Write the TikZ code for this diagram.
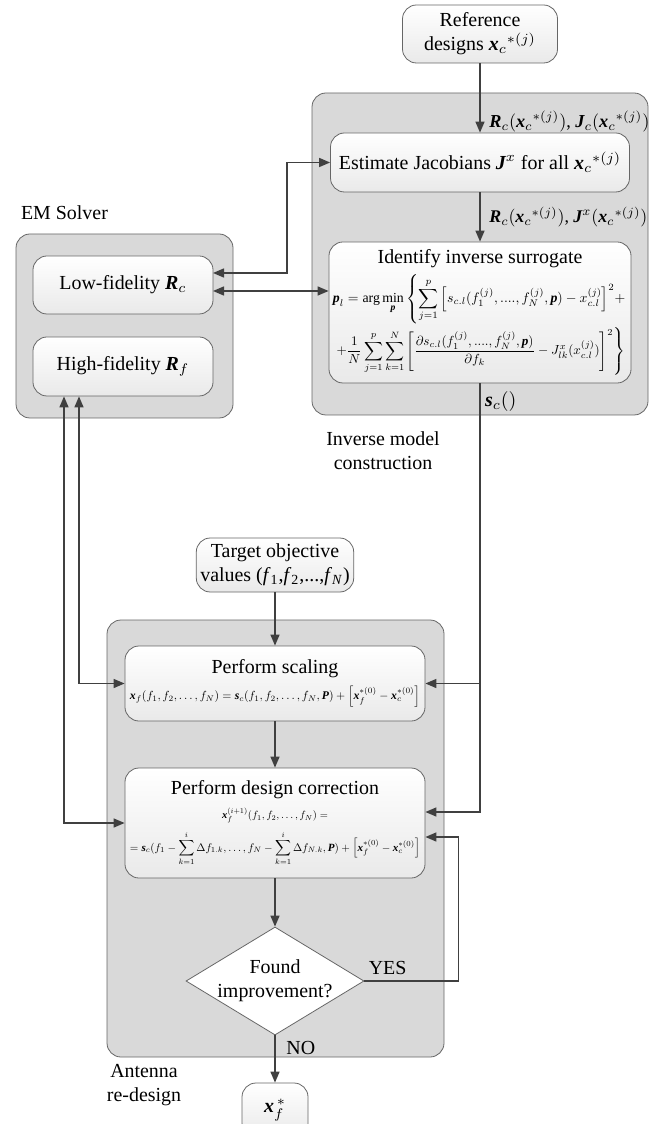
\documentclass[tikz,border=0pt]{standalone}
\usepackage{amsmath}
\usepackage{graphicx}
\usepackage{fontspec}
\setmainfont{Liberation Serif}
\usetikzlibrary{arrows.meta,shapes.geometric}
\newcommand{\bsym}[1]{\text{\bfseries\itshape #1}}
\newcommand{\eqfit}[2]{\resizebox{#1}{!}{#2}}
\begin{document}
\begin{tikzpicture}[x=0.5bp, y=-0.5bp,
    >={Triangle[length=5.5bp,width=4.5bp]},
    block/.style={draw=black!60, rounded corners=7bp, top color=white, bottom color=gray!17, align=center, inner sep=2bp},
    panel/.style={draw=black!60, fill=gray!30, rounded corners=7bp},
    decision/.style={diamond, draw=black!60, fill=white, aspect=1.65, inner sep=0pt, minimum width=89bp, minimum height=54bp, align=center},
    link/.style={draw=black!75, line width=0.75bp}]
  \useasboundingbox (0,0) rectangle (656,1124);
  % grey groups
  \filldraw[panel] (312,93) rectangle (648,415);
  \filldraw[panel] (16,234) rectangle (233,418);
  \filldraw[panel] (107,620) rectangle (444,1057);
  \node[anchor=west] (emlab) at (14,213) {EM Solver};
  \node[align=center] (invlab) at (383,451) {Inverse model\\construction};
  \node[align=center] (antlab) at (144,1085) {Antenna\\re-design};
  % blocks
  \node[block, minimum width=77.5bp, minimum height=29bp] (ref) at (480,34) {Reference\\designs $\bsym{x}_c{}^{*(j)}$};
  \node[block, minimum width=149.5bp, minimum height=29.5bp] (est) at (480,162.5) {Estimate Jacobians $\bsym{J}^x$ for all $\bsym{x}_c{}^{*(j)}$};
  \node[block, minimum width=149.5bp, minimum height=70.5bp] (inv) at (480,312.5) {Identify inverse surrogate\\[2bp]
    \eqfit{147bp}{$\displaystyle \bsym{p}_l=\arg\min_{\bsym{p}}\left\{\sum_{j=1}^{p}\Big[s_{c.l}(f_1^{(j)},....,f_N^{(j)},\bsym{p})-x_{c.l}^{(j)}\Big]^2+\right.$}\\[1bp]
    \eqfit{145bp}{$\displaystyle \left.+\frac{1}{N}\sum_{j=1}^{p}\sum_{k=1}^{N}\left[\frac{\partial s_{c.l}(f_1^{(j)},....,f_N^{(j)},\bsym{p})}{\partial f_k}-J_{lk}^{x}(x_{c.l}^{(j)})\right]^2\right\}$}};
  \node[block, minimum width=90bp, minimum height=29bp] (low) at (123,285) {Low-fidelity $\bsym{R}_c$};
  \node[block, minimum width=90bp, minimum height=29.5bp] (high) at (123,366.5) {High-fidelity $\bsym{R}_f$};
  \node[block, minimum width=78.5bp, minimum height=27bp] (tgt) at (275,565) {Target objective\\values (\textit{f}\textsubscript{1},\textit{f}\textsubscript{2},...,\textit{f}\textsubscript{\textit{N}})};
  \node[block, minimum width=150bp, minimum height=37.5bp] (scl) at (275,683.5) {Perform scaling\\[1bp]
    \eqfit{145bp}{$\bsym{x}_f(f_1,f_2,\ldots,f_N)=\bsym{s}_c(f_1,f_2,\ldots,f_N,\bsym{P})+\Big[\bsym{x}_f^{*(0)}-\bsym{x}_c^{*(0)}\Big]$}};
  \node[block, minimum width=150bp, minimum height=55bp] (corr) at (275,823) {Perform design correction\\
    \eqfit{53bp}{$\bsym{x}_f^{(i+1)}(f_1,f_2,\ldots,f_N)=$}\\[3bp]
    \eqfit{145bp}{$\displaystyle=\bsym{s}_c(f_1-\sum_{k=1}^{i}\Delta f_{1.k},\ldots,f_N-\sum_{k=1}^{i}\Delta f_{N.k},\bsym{P})+\Big[\bsym{x}_f^{*(0)}-\bsym{x}_c^{*(0)}\Big]$}};
  \node[decision] (found) at (275,981) {\makebox[30bp]{Found}\\\makebox[30bp]{improvement?}};
  \node[block, minimum width=33bp, minimum height=27bp] (xf) at (275,1110) {$\bsym{x}_f^{\,*}$};
  % connectors
  \draw[link,->] (ref) -- (est) node[pos=0.84, right=1bp] (rjc) {\eqfit{80bp}{$\bsym{R}_c(\bsym{x}_c{}^{*(j)})$, $\bsym{J}_c(\bsym{x}_c{}^{*(j)})$}};
  \draw[link,->] (est) -- (inv) node[midway, right=1bp] (rjx) {\eqfit{79bp}{$\bsym{R}_c(\bsym{x}_c{}^{*(j)})$, $\bsym{J}^x(\bsym{x}_c{}^{*(j)})$}};
  \coordinate (lowa) at (213,273);
  \coordinate (lowb) at (213,291);
  \draw[link,<->] (lowa) -- (287,273) |- (est.west);
  \draw[link,<->] (lowb) -- (lowb -| inv.west);
  \draw[link,->] (inv.south) |- ([yshift=5.5bp]corr.east);
  \draw[link,->] (inv.south |- scl.east) -- (scl.east);
  \node[anchor=west] (slab) at (478,402) {$\bsym{s}_c()$};
  \draw[link,<->] ([xshift=-22bp]high.south) |- (scl.west);
  \draw[link,<->] ([xshift=-29.5bp]high.south) |- (corr.west);
  \draw[link,->] (tgt) -- (scl);
  \draw[link,->] (scl) -- (corr);
  \draw[link,->] (corr) -- (found);
  \draw[link,->] (found.east) -- ++(94,0) |- ([yshift=-7bp]corr.east);
  \node[anchor=south west, inner sep=1bp] (yes) at ([xshift=1bp,yshift=2bp]found.east) {YES};
  \draw[link,->] (found.south) -- (xf.north) node[pos=0.27, right=2bp] (no) {NO};
\end{tikzpicture}
\end{document}
